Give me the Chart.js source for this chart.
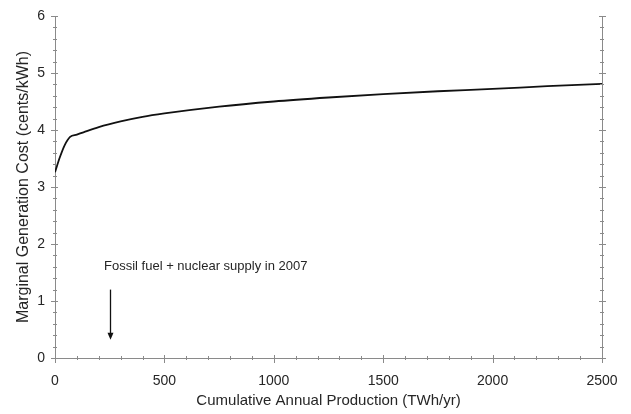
<!DOCTYPE html>
<html>
<head>
<meta charset="utf-8">
<script src="https://cdn.jsdelivr.net/npm/chart.js@4"></script>
<style>
  html, body { margin: 0; padding: 0; background: #fff; }
  #wrap { width: 631px; height: 414px; }
</style>
</head>
<body>
<div id="wrap"><canvas id="chart" width="631" height="414"></canvas></div>
<script>
// ==== Data ====
const production = [0, 23, 45, 69, 100, 130, 200, 300, 400, 500, 750, 1000, 1250, 1500, 1750, 2000, 2250, 2500];
const marginalCost = [3.26, 3.53, 3.74, 3.88, 3.92, 3.96, 4.05, 4.15, 4.23, 4.29, 4.41, 4.5, 4.57, 4.63, 4.68, 4.72, 4.77, 4.81];
const xTicks = [0, 500, 1000, 1500, 2000, 2500];
const yTicks = [0, 1, 2, 3, 4, 5, 6];
const noteText = 'Fossil fuel + nuclear supply in 2007';
const noteAt = { x: 224, y: 1.61 };        // text anchor (left, middle)
const arrowAt = { x: 252, from: 1.2, to: 0.32 };

const axisColor = '#8a8a8a';
const textColor = '#262626';
const fontFamily = '"Liberation Sans", Arial, sans-serif';

// ==== Ticks crossing the axes (major + minor) ====
const tickPlugin = {
  id: 'crossTicks',
  afterDraw(chart) {
    const ctx = chart.ctx;
    const xs = chart.scales.x, ys = chart.scales.y, ys2 = chart.scales.y2;
    const area = chart.chartArea;
    ctx.save();
    ctx.strokeStyle = axisColor;
    ctx.lineWidth = 1;
    ctx.beginPath();
    for (let v = 0; v <= 2500; v += 100) {
      const px = Math.round(xs.getPixelForValue(v)) + 0.5;
      const major = xTicks.includes(v);
      ctx.moveTo(px, area.bottom - (major ? 3 : 2));
      ctx.lineTo(px, area.bottom + (major ? 5 : 2));
    }
    for (let i = 0; i <= 30; i++) {
      const v = i / 5;
      const major = i % 5 === 0;
      const py = Math.round(ys.getPixelForValue(v)) + 0.5;
      ctx.moveTo(area.left - (major ? 4 : 2), py);
      ctx.lineTo(area.left + (major ? 3 : 2), py);
      const py2 = Math.round(ys2.getPixelForValue(v)) + 0.5;
      ctx.moveTo(area.right - (major ? 3 : 2), py2);
      ctx.lineTo(area.right + (major ? 4 : 2), py2);
    }
    ctx.stroke();

    // annotation: label and arrow
    const ax = Math.round(xs.getPixelForValue(arrowAt.x)) + 0.5;
    const ay1 = ys.getPixelForValue(arrowAt.from);
    const ay2 = ys.getPixelForValue(arrowAt.to);
    ctx.strokeStyle = '#111';
    ctx.fillStyle = '#111';
    ctx.lineWidth = 1.3;
    ctx.beginPath();
    ctx.moveTo(ax, ay1);
    ctx.lineTo(ax, ay2 - 5);
    ctx.stroke();
    ctx.beginPath();
    ctx.moveTo(ax - 3, ay2 - 7);
    ctx.lineTo(ax + 3, ay2 - 7);
    ctx.lineTo(ax, ay2);
    ctx.closePath();
    ctx.fill();

    ctx.fillStyle = textColor;
    ctx.font = '13px ' + fontFamily;
    ctx.textAlign = 'left';
    ctx.textBaseline = 'middle';
    ctx.fillText(noteText, xs.getPixelForValue(noteAt.x), ys.getPixelForValue(noteAt.y));
    ctx.restore();
  }
};

const ctx = document.getElementById('chart').getContext('2d');
new Chart(ctx, {
  type: 'line',
  data: {
    datasets: [{
      data: production.map((x, i) => ({ x: x, y: marginalCost[i] })),
      borderColor: '#111',
      borderWidth: 1.8,
      pointRadius: 0,
      cubicInterpolationMode: 'monotone',
      fill: false
    }]
  },
  options: {
    responsive: false,
    animation: false,
    layout: { padding: { top: 16, right: 0, left: 0, bottom: 0 } },
    plugins: { legend: { display: false }, tooltip: { enabled: false } },
    scales: {
      x: {
        type: 'linear',
        min: 0, max: 2500,
        afterBuildTicks: s => { s.ticks = xTicks.map(v => ({ value: v })); },
        afterFit: s => { s.height = 56; },
        grid: { display: false },
        border: { display: true, color: axisColor, width: 1 },
        ticks: { color: textColor, font: { family: fontFamily, size: 14 }, padding: 7, maxRotation: 0,
                 callback: v => String(v) },
        title: { display: true, text: 'Cumulative Annual Production (TWh/yr)', color: textColor,
                 font: { family: fontFamily, size: 15 }, padding: { top: 7 } }
      },
      y: {
        min: 0, max: 6,
        afterBuildTicks: s => { s.ticks = yTicks.map(v => ({ value: v })); },
        afterFit: s => { s.width = 55; },
        grid: { display: false },
        border: { display: true, color: axisColor, width: 1 },
        ticks: { color: textColor, font: { family: fontFamily, size: 14 }, padding: 2,
                 callback: v => String(v) },
        title: { display: true, text: 'Marginal Generation Cost (cents/kWh)', color: textColor,
                 font: { family: fontFamily, size: 16 }, padding: { top: 14, bottom: 0 } }
      },
      y2: {
        position: 'right',
        min: 0, max: 6,
        afterFit: s => { s.width = 29; },
        grid: { display: false },
        border: { display: true, color: axisColor, width: 1 },
        ticks: { display: false }
      }
    }
  },
  plugins: [tickPlugin]
});
</script>
</body>
</html>
